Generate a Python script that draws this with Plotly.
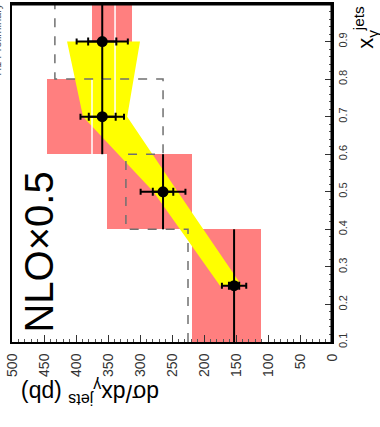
import plotly.graph_objects as go

# x_gamma^jets bins
bin_lo = [0.1, 0.4, 0.6, 0.8]
bin_hi = [0.4, 0.6, 0.8, 1.0]
x_centre = [0.25, 0.5, 0.7, 0.9]

# measured cross section (pb) with statistical and total errors
xsec = [153, 264, 359, 359]
stat_err = [8, 16, 21, 22]
tot_err = [19, 35, 34, 40]

# systematic band per bin (pb)
sys_lo = [111, 219, 331, 312]
sys_hi = [219, 352, 445, 375]

# dashed comparison histogram (pb)
mc_hist = [225, 322, 264, 433]

# NLO x 0.5 band at bin centres (pb)
nlo_lo = [141, 241, 320, 300]
nlo_hi = [175, 279, 389, 414]

# white step edges inside the systematic boxes
white_val = [375, 339]
white_from = [0.6, 0.7]
white_to = [0.8, 1.0]

# axis ticks
xg_ticks = [0.1, 0.2, 0.3, 0.4, 0.5, 0.6, 0.7, 0.8, 0.9, 1.0]
xg_labels = ["0.1", "0.2", "0.3", "0.4", "0.5", "0.6", "0.7", "0.8", "0.9", "1"]

FONT = "Liberation Sans, Arial, sans-serif"
W, H = 380, 427
ML, MR, MT, MB = 12, 48, 2, 85
PW, PH = W - ML - MR, H - MT - MB


def paper(px, py):
    return (px - ML) / PW, (MT + PH - py) / PH


fig = go.Figure()

# systematic boxes
fig.add_trace(go.Bar(
    orientation="h",
    y=[(a + b) / 2 for a, b in zip(bin_lo, bin_hi)],
    x=[h - l for l, h in zip(sys_lo, sys_hi)],
    base=sys_lo,
    width=[b - a for a, b in zip(bin_lo, bin_hi)],
    marker=dict(color="#ff7f7f", line=dict(width=0)),
    hoverinfo="skip",
))

# NLO band
fig.add_trace(go.Scatter(
    x=nlo_hi + nlo_lo[::-1],
    y=x_centre + x_centre[::-1],
    fill="toself", fillcolor="#ffff00",
    mode="lines", line=dict(width=0, color="#ffff00"),
    hoverinfo="skip",
))

# white edges
wx, wy = [], []
for v, a, b in zip(white_val, white_from, white_to):
    wx += [v, v, None]
    wy += [a, b, None]
fig.add_trace(go.Scatter(x=wx, y=wy, mode="lines",
                         line=dict(color="white", width=1.5), hoverinfo="skip"))

# dashed histogram
fig.add_trace(go.Scatter(
    x=mc_hist + [mc_hist[-1]],
    y=bin_lo + [bin_hi[-1]],
    mode="lines", line=dict(color="#707070", width=1.5, dash="dash", shape="vh"),
    hoverinfo="skip",
))

# data: bin extent and total errors
fig.add_trace(go.Scatter(
    x=xsec, y=x_centre, mode="markers",
    marker=dict(size=1, color="black"),
    error_y=dict(type="data", symmetric=False,
                 array=[b - c for b, c in zip(bin_hi, x_centre)],
                 arrayminus=[c - a for a, c in zip(bin_lo, x_centre)],
                 color="black", thickness=2, width=0),
    error_x=dict(type="data", array=tot_err, color="black", thickness=2, width=3),
    hoverinfo="skip",
))
# data: statistical errors and markers
fig.add_trace(go.Scatter(
    x=xsec, y=x_centre, mode="markers",
    marker=dict(size=11, color="black", symbol="circle"),
    error_x=dict(type="data", array=stat_err, color="black", thickness=2, width=4),
    hoverinfo="skip",
))

fig.update_layout(
    width=W, height=H,
    margin=dict(l=ML, r=MR, t=MT, b=MB),
    plot_bgcolor="white", paper_bgcolor="white",
    showlegend=False, barmode="overlay", bargap=0,
    font=dict(family=FONT, color="black"),
)
fig.update_xaxes(
    range=[500, 0], tick0=0, dtick=50,
    ticks="inside", ticklen=7, tickwidth=1, tickcolor="#333",
    minor=dict(dtick=10, ticks="inside", ticklen=3, tickcolor="#555"),
    showline=True, linewidth=2, linecolor="black", mirror=True,
    showgrid=False, zeroline=False, tickangle=-90,
    tickfont=dict(size=14, color="#333", family=FONT),
    ticklabelstandoff=4,
)
fig.update_yaxes(
    range=[0.1, 1.0], side="right",
    tickvals=xg_ticks, ticktext=xg_labels,
    ticks="inside", ticklen=7, tickwidth=1, tickcolor="#333",
    minor=dict(dtick=0.02, ticks="inside", ticklen=3, tickcolor="#555"),
    showline=True, linewidth=2, linecolor="black", mirror=True,
    showgrid=False, zeroline=False, tickangle=-90,
    tickfont=dict(size=11, color="#333", family=FONT),
)

# heavier top and right frame edges
fig.add_shape(type="line", xref="paper", yref="paper", x0=0, x1=1, y0=1, y1=1,
              line=dict(color="black", width=3))
fig.add_shape(type="line", xref="paper", yref="paper", x0=1, x1=1, y0=0, y1=1,
              line=dict(color="black", width=3))


def label(px, py, text, angle, size, color="black"):
    ax, ay = paper(px, py)
    fig.add_annotation(x=ax, y=ay, xref="paper", yref="paper", text=text,
                       textangle=angle, showarrow=False,
                       xanchor="center", yanchor="middle",
                       font=dict(size=size, color=color, family=FONT))


label(39, 252, "NLO×0.5", -90, 40)
label(90, 394, "dσ/dx<sub>γ</sub><sup>jets</sup> (pb)", 180, 23)
label(366, 26, "x<sub>γ</sub><sup>jets</sup>", -90, 22)
label(-3, 38, "H1 Preliminary", -90, 11, "#555")

fig.write_html("out.html")
